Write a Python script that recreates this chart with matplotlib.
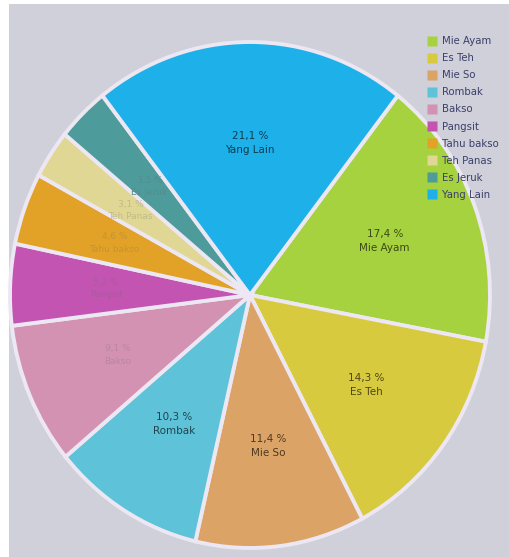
import numpy as np
import matplotlib.pyplot as plt
from matplotlib.patches import Rectangle
from matplotlib.lines import Line2D
from matplotlib.colors import to_rgb

# menu items and their share of orders, clockwise from the top right
labels = ["Mie Ayam", "Es Teh", "Mie So", "Rombak", "Bakso",
          "Pangsit", "Tahu bakso", "Teh Panas", "Es Jeruk", "Yang Lain"]
shares = [17.4, 14.3, 11.4, 10.3, 9.1, 5.2, 4.6, 3.1, 3.5, 21.1]
colors = ["#a5d23e", "#d8ca3e", "#dba466", "#5ec3d8", "#d492b2",
          "#c454b2", "#e2a228", "#e0d794", "#4d9b9b", "#1eb0e8"]

W, H = 510, 557
fig = plt.figure(figsize=(W / 100, H / 100), dpi=100)
fig.patch.set_facecolor("white")

# grey screen area, thin white margin on the left and top
fig.add_artist(Rectangle((9 / W, 0), 1, 1 - 4 / H, transform=fig.transFigure,
                         facecolor="#cfd0d9", edgecolor="none", zorder=0))

cx, cy, rx, ry = 250, 295, 240, 253
ax = fig.add_axes([(cx - rx) / W, 1 - (cy + ry) / H, 2 * rx / W, 2 * ry / H])

wedges, _ = ax.pie(shares, colors=colors, startangle=52, counterclock=False,
                   radius=1, wedgeprops=dict(edgecolor="#ece7f3", linewidth=2.8))
ax.set_aspect("auto")
ax.set_xlim(-1, 1)
ax.set_ylim(-1, 1)
ax.axis("off")

# percentage + name inside each slice
for w, lab, val, col in zip(wedges, labels, shares, colors):
    ang = np.deg2rad((w.theta1 + w.theta2) / 2)
    r = 0.6
    x, y = r * np.cos(ang), r * np.sin(ang)
    c = np.array(to_rgb(col))
    if val >= 10:
        tc = c * 0.35
        fs = 7.5
    else:
        tc = c * 0.75 + 0.1
        fs = 6.5
    txt = f"{val:.1f}".replace(".", ",") + " %\n" + lab
    ax.text(x, y, txt, ha="center", va="center", fontsize=fs,
            color=np.clip(tc, 0, 1), linespacing=1.5)

handles = [Line2D([], [], marker="s", linestyle="none", markersize=7,
                  markerfacecolor=c, markeredgecolor="none") for c in colors]
leg = fig.legend(handles, labels, loc="upper left",
                 bbox_to_anchor=(424 / W, 1 - 32 / H), frameon=False,
                 fontsize=7.3, labelspacing=0.7, handlelength=0.8,
                 handletextpad=0.55, borderaxespad=0)
for t in leg.get_texts():
    t.set_color("#3a3f6a")

fig.savefig("out.png", dpi=100)
